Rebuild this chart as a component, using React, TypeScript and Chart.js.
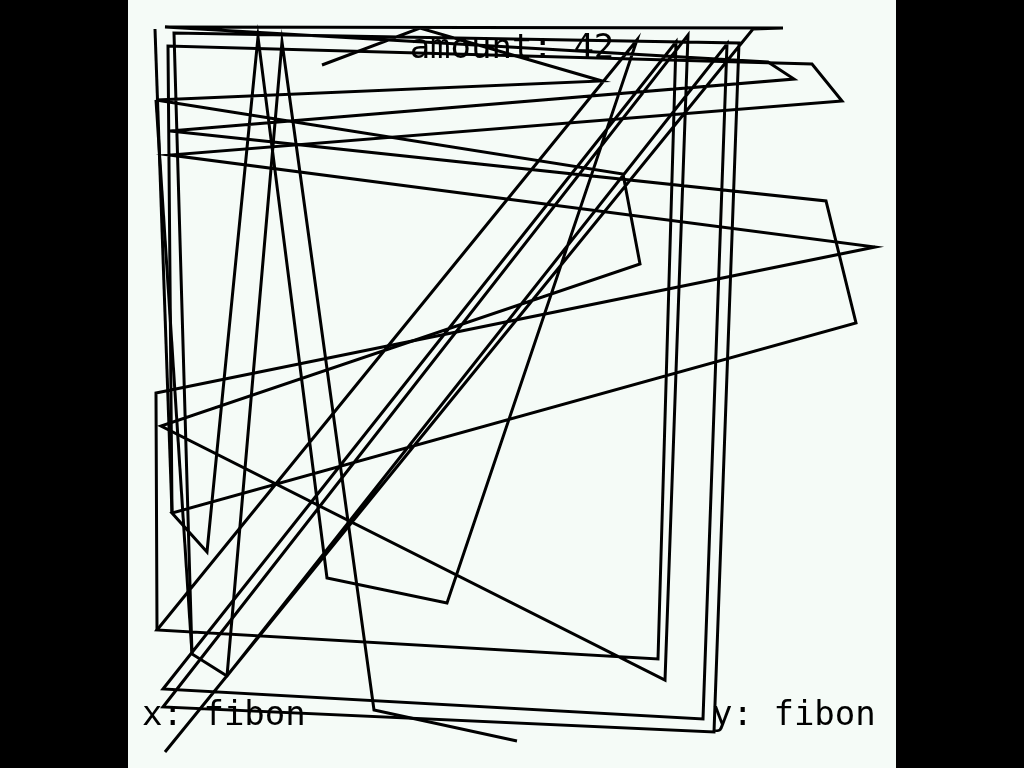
import { useEffect, useRef } from "react";
import { Chart, registerables } from "chart.js";

Chart.register(...registerables);

// Main traced path (data units: 0..768 on both axes, y up)
const mainX = [194, 292, 474, 28, 495, 512, 33, 537, 560, 35, 586, 611, 46, 64, 99, 599, 575, 35, 548, 530, 29, 509, 319, 199, 130, 79, 44, 728, 698, 42, 666, 640, 37, 655, 625, 37];
const mainY = [703, 740, 687, 668, 594, 504, 342, 88, 733, 61, 36, 725, 735, 114, 92, 724, 49, 79, 726, 109, 138, 728, 165, 190, 731, 216, 255, 445, 567, 637, 689, 706, 741, 740, 739, 16];

// Branch path
const branchX = [29, 28, 747, 42, 714, 684, 40, 44];
const branchY = [138, 375, 521, 613, 667, 704, 722, 255];

// Left vertical strokes
const leftX = [27, 44];
const leftY = [739, 255];
const innerX = [28, 64];
const innerY = [668, 114];

// Tail path
const tailX = [99, 154, 246, 389];
const tailY = [92, 726, 58, 27];

const titleText = "amount: 42";
const xLabel = "x: fibon";
const yLabel = "y: fibon";

const toPoints = (xs: number[], ys: number[]) => xs.map((x, i) => ({ x, y: ys[i] }));

export default function App() {
  const ref = useRef<HTMLCanvasElement>(null);

  useEffect(() => {
    if (!ref.current) return;
    const common = {
      showLine: true,
      borderColor: "#000",
      backgroundColor: "#000",
      borderWidth: 3,
      pointRadius: 0,
      pointHoverRadius: 0,
      fill: false,
      tension: 0,
    };
    const chart = new Chart(ref.current, {
      type: "scatter",
      data: {
        datasets: [
          { ...common, data: toPoints(mainX, mainY) },
          { ...common, data: toPoints(branchX, branchY) },
          { ...common, data: toPoints(leftX, leftY) },
          { ...common, data: toPoints(innerX, innerY) },
          { ...common, data: toPoints(tailX, tailY) },
        ],
      },
      options: {
        responsive: false,
        animation: false,
        devicePixelRatio: 1,
        layout: { padding: 0 },
        plugins: { legend: { display: false }, tooltip: { enabled: false } },
        scales: {
          x: { type: "linear", min: 0, max: 768, display: false },
          y: { type: "linear", min: 0, max: 768, display: false },
        },
      },
    } as any);
    return () => chart.destroy();
  }, []);

  const textStyle: React.CSSProperties = {
    position: "absolute",
    fontFamily: "'DejaVu Sans Mono', monospace",
    fontSize: 34,
    lineHeight: "34px",
    color: "#000",
    whiteSpace: "pre",
    pointerEvents: "none",
  };

  return (
    <div style={{ position: "fixed", left: 0, top: 0, width: 1024, height: 768, background: "#000", overflow: "hidden" }}>
      <div style={{ position: "absolute", left: 128, top: 0, width: 768, height: 768, background: "#f5fbf7" }}>
        <canvas ref={ref} width={768} height={768} style={{ display: "block", width: 768, height: 768, position: "absolute", left: 0, top: 0 }} />
        <div style={{ ...textStyle, left: 0, width: 768, textAlign: "center", top: 29 }}>{titleText}</div>
        <div style={{ ...textStyle, left: 14, top: 696 }}>{xLabel}</div>
        <div style={{ ...textStyle, left: 584, top: 696 }}>{yLabel}</div>
      </div>
    </div>
  );
}
